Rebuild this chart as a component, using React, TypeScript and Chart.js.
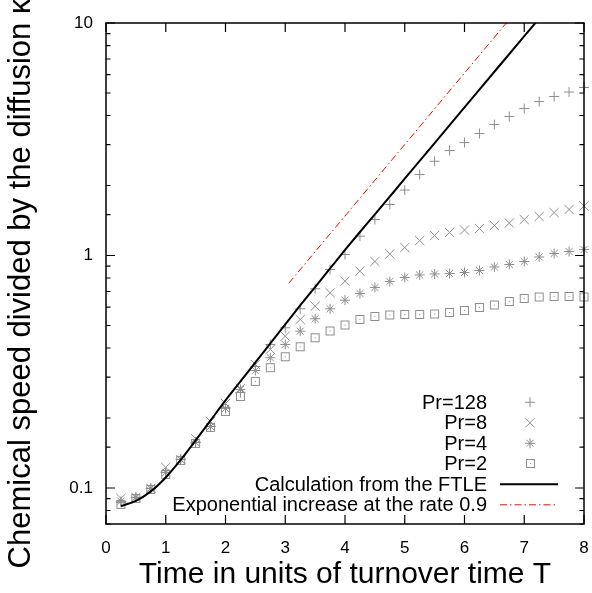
import React, { useEffect, useRef } from 'react';
import { Chart, registerables } from 'chart.js';

Chart.register(...registerables);

// ---- data ----
const times = [0.25, 0.5, 0.75, 1.0, 1.25, 1.5, 1.75, 2.0, 2.25, 2.5, 2.75, 3.0, 3.25, 3.5, 3.75, 4.0,
  4.25, 4.5, 4.75, 5.0, 5.25, 5.5, 5.75, 6.0, 6.25, 6.5, 6.75, 7.0, 7.25, 7.5, 7.75, 8.0];

const pr128 = [0.0867, 0.0911, 0.0996, 0.1167, 0.1327, 0.157, 0.184, 0.2221, 0.2576, 0.3332, 0.4144, 0.4887,
  0.5899, 0.7192, 0.8705, 1.01, 1.211, 1.428, 1.657, 1.912, 2.23, 2.543, 2.828, 3.061, 3.346, 3.658, 3.96,
  4.285, 4.593, 4.827, 5.047, 5.277];

const pr8 = [0.0902, 0.0911, 0.0996, 0.1226, 0.1327, 0.1633, 0.1933, 0.231, 0.2681, 0.3399, 0.3944, 0.4497,
  0.5307, 0.6053, 0.6914, 0.7752, 0.856, 0.9423, 1.015, 1.082, 1.16, 1.219, 1.256, 1.287, 1.306, 1.346,
  1.379, 1.428, 1.471, 1.53, 1.577, 1.633];

const pr4 = [0.0876, 0.0911, 0.0996, 0.1167, 0.1327, 0.157, 0.184, 0.2199, 0.2654, 0.3202, 0.3633, 0.4144,
  0.4726, 0.5345, 0.5899, 0.6424, 0.6866, 0.7286, 0.773, 0.8042, 0.8245, 0.8327, 0.8368, 0.8451, 0.862,
  0.8925, 0.9148, 0.9423, 0.9853, 1.02, 1.04, 1.061];

const pr2 = [0.085, 0.0902, 0.0986, 0.1144, 0.1314, 0.1555, 0.1822, 0.2135, 0.2475, 0.2873, 0.329, 0.3669,
  0.4051, 0.4428, 0.4736, 0.5025, 0.5307, 0.5467, 0.5549, 0.5577, 0.5577, 0.5604, 0.5688, 0.5801, 0.5976,
  0.6126, 0.6341, 0.6532, 0.663, 0.6663, 0.6663, 0.663];

const ftleT = [0.25, 0.5, 0.75, 1.0, 1.25, 1.5, 1.75, 2.0, 2.25, 2.5, 2.75, 3.0, 3.25, 3.5, 3.75, 4.0, 4.25,
  4.5, 5.0, 5.5, 6.0, 6.5, 7.0, 7.25];
const ftleV = [0.0836, 0.088, 0.0967, 0.111, 0.132, 0.1602, 0.1953, 0.238, 0.2872, 0.3467, 0.4184, 0.505,
  0.6095, 0.7319, 0.8793, 1.056, 1.262, 1.503, 2.139, 3.045, 4.334, 6.17, 8.775, 10.47];

const expT = [3.06, 6.7];
const expV = [0.76, 10];

const labels = ['Pr=128', 'Pr=8', 'Pr=4', 'Pr=2', 'Calculation from the FTLE', 'Exponential increase at the rate 0.9'];
const xTitle = 'Time in units of turnover time T';
const yTitle = 'Chemical speed divided by the diffusion \u03ba';
const xMin = 0, xMax = 8, yMin = 0.07, yMax = 10;

const FONT = '"Liberation Sans", Arial, Helvetica, sans-serif';
const GRAY = '#8e8e8e';

function makeSquare(): HTMLCanvasElement {
  const c = document.createElement('canvas');
  c.width = 11; c.height = 11;
  const g = c.getContext('2d')!;
  g.strokeStyle = GRAY;
  g.lineWidth = 1;
  g.strokeRect(1.5, 1.5, 8, 8);
  g.fillStyle = GRAY;
  g.fillRect(5, 5, 1, 1);
  return c;
}

function isDecade(v: number) {
  const l = Math.log10(v);
  return Math.abs(l - Math.round(l)) < 1e-6;
}

export default function App() {
  const ref = useRef<HTMLCanvasElement>(null);

  useEffect(() => {
    document.body.style.margin = '0';
    const square = makeSquare();
    const pts = (arr: number[]) => times.map((t, i) => ({ x: t, y: arr[i] }));

    const framePlugin = {
      id: 'frameTicksLegend',
      afterDraw(chart: any) {
        const { ctx, chartArea: a } = chart;
        const xs = chart.scales.x;
        const ys = chart.scales.y;
        ctx.save();
        ctx.strokeStyle = '#000';
        ctx.lineWidth = 1.5;
        ctx.strokeRect(a.left, a.top, a.right - a.left, a.bottom - a.top);
        ctx.lineWidth = 1.2;
        ctx.beginPath();
        ys.ticks.forEach((t: any) => {
          const y = ys.getPixelForValue(t.value);
          if (y < a.top - 0.5 || y > a.bottom + 0.5) return;
          const len = isDecade(t.value) ? 9 : 4.5;
          ctx.moveTo(a.left, y); ctx.lineTo(a.left + len, y);
          ctx.moveTo(a.right, y); ctx.lineTo(a.right - len, y);
        });
        xs.ticks.forEach((t: any) => {
          const x = xs.getPixelForValue(t.value);
          ctx.moveTo(x, a.bottom); ctx.lineTo(x, a.bottom - 9);
          ctx.moveTo(x, a.top); ctx.lineTo(x, a.top + 9);
        });
        ctx.stroke();

        // y axis title (rotated)
        ctx.save();
        ctx.translate(21, a.top + (a.bottom - a.top) / 2 + 10);
        ctx.rotate(-Math.PI / 2);
        ctx.font = '31px ' + FONT;
        ctx.fillStyle = '#000';
        ctx.textAlign = 'center';
        ctx.textBaseline = 'middle';
        ctx.fillText(yTitle, 0, 0);
        ctx.restore();

        // legend
        const textRight = a.right - 97;
        const symX = a.right - 54;
        const y0 = a.bottom - 121.7;
        const dy = 20.5;
        ctx.font = '20px ' + FONT;
        ctx.textAlign = 'right';
        ctx.textBaseline = 'middle';
        labels.forEach((lab, i) => {
          const y = y0 + i * dy;
          ctx.fillStyle = '#000';
          ctx.fillText(lab, textRight, y + 1);
          ctx.strokeStyle = GRAY;
          ctx.lineWidth = 1;
          ctx.setLineDash([]);
          ctx.beginPath();
          if (i === 0) {
            ctx.moveTo(symX - 5, y); ctx.lineTo(symX + 5, y);
            ctx.moveTo(symX, y - 5); ctx.lineTo(symX, y + 5);
            ctx.stroke();
          } else if (i === 1) {
            ctx.moveTo(symX - 4.6, y - 4.6); ctx.lineTo(symX + 4.6, y + 4.6);
            ctx.moveTo(symX - 4.6, y + 4.6); ctx.lineTo(symX + 4.6, y - 4.6);
            ctx.stroke();
          } else if (i === 2) {
            ctx.moveTo(symX - 5, y); ctx.lineTo(symX + 5, y);
            ctx.moveTo(symX, y - 5); ctx.lineTo(symX, y + 5);
            ctx.moveTo(symX - 3.5, y - 3.5); ctx.lineTo(symX + 3.5, y + 3.5);
            ctx.moveTo(symX - 3.5, y + 3.5); ctx.lineTo(symX + 3.5, y - 3.5);
            ctx.stroke();
          } else if (i === 3) {
            ctx.drawImage(square, Math.round(symX - 5.5), Math.round(y - 5.5));
          } else if (i === 4) {
            ctx.strokeStyle = '#000';
            ctx.lineWidth = 2;
            ctx.moveTo(textRight + 13, y); ctx.lineTo(textRight + 71, y);
            ctx.stroke();
          } else {
            ctx.strokeStyle = '#ff0000';
            ctx.lineWidth = 1;
            ctx.setLineDash([7, 3, 1.5, 3]);
            ctx.moveTo(textRight + 13, y); ctx.lineTo(textRight + 71, y);
            ctx.stroke();
            ctx.setLineDash([]);
          }
        });
        ctx.restore();
      },
    };

    const chart = new Chart(ref.current!, {
      type: 'scatter',
      data: {
        datasets: [
          {
            label: labels[4],
            data: ftleT.map((t, i) => ({ x: t, y: ftleV[i] })),
            showLine: true,
            borderColor: '#000',
            borderWidth: 2,
            pointRadius: 0,
            cubicInterpolationMode: 'monotone',
          },
          {
            label: labels[5],
            data: expT.map((t, i) => ({ x: t, y: expV[i] })),
            showLine: true,
            borderColor: '#ff0000',
            borderWidth: 1,
            borderDash: [7, 3, 1.5, 3],
            pointRadius: 0,
          },
          {
            label: labels[0], data: pts(pr128), pointStyle: 'cross', pointRadius: 5,
            borderColor: GRAY, backgroundColor: GRAY, pointBorderWidth: 1, clip: false,
          },
          {
            label: labels[1], data: pts(pr8), pointStyle: 'crossRot', pointRadius: 6.5,
            borderColor: GRAY, backgroundColor: GRAY, pointBorderWidth: 1, clip: false,
          },
          {
            label: labels[2], data: pts(pr4), pointStyle: 'star', pointRadius: 5,
            borderColor: GRAY, backgroundColor: GRAY, pointBorderWidth: 1, clip: false,
          },
          {
            label: labels[3], data: pts(pr2), pointStyle: square as any, pointRadius: 5,
            borderColor: GRAY, backgroundColor: GRAY, clip: false,
          },
        ] as any,
      },
      options: {
        animation: false,
        responsive: false,
        layout: { padding: { top: 23, right: 8, left: 0, bottom: 0 } },
        plugins: { legend: { display: false }, tooltip: { enabled: false } },
        scales: {
          x: {
            type: 'linear',
            min: xMin,
            max: xMax,
            grid: { display: false, drawTicks: false },
            border: { display: false },
            ticks: {
              stepSize: 1,
              color: '#000',
              padding: 14,
              font: { family: FONT, size: 17 },
              maxRotation: 0,
            },
            title: {
              display: true,
              text: xTitle,
              color: '#000',
              font: { family: FONT, size: 30 },
              padding: { top: 0, bottom: 0 },
            },
            afterFit: (s: any) => { s.height = 69; s.paddingLeft = 0; s.paddingRight = 0; },
          },
          y: {
            type: 'logarithmic',
            min: yMin,
            max: yMax,
            grid: { display: false, drawTicks: false },
            border: { display: false },
            ticks: {
              autoSkip: false,
              color: '#000',
              padding: 13,
              font: { family: FONT, size: 17 },
              callback: (v: any) => (isDecade(Number(v)) ? String(Number(Number(v).toPrecision(1))) : ''),
            },
            title: { display: false, text: yTitle },
            afterFit: (s: any) => { s.width = 106; s.paddingTop = 0; s.paddingBottom = 0; },
          },
        },
      } as any,
      plugins: [framePlugin],
    });
    return () => chart.destroy();
  }, []);

  return (
    <div style={{ position: 'absolute', left: 0, top: 0, width: 592, height: 593 }}>
      <canvas ref={ref} width={592} height={593} style={{ display: 'block' }} />
    </div>
  );
}
